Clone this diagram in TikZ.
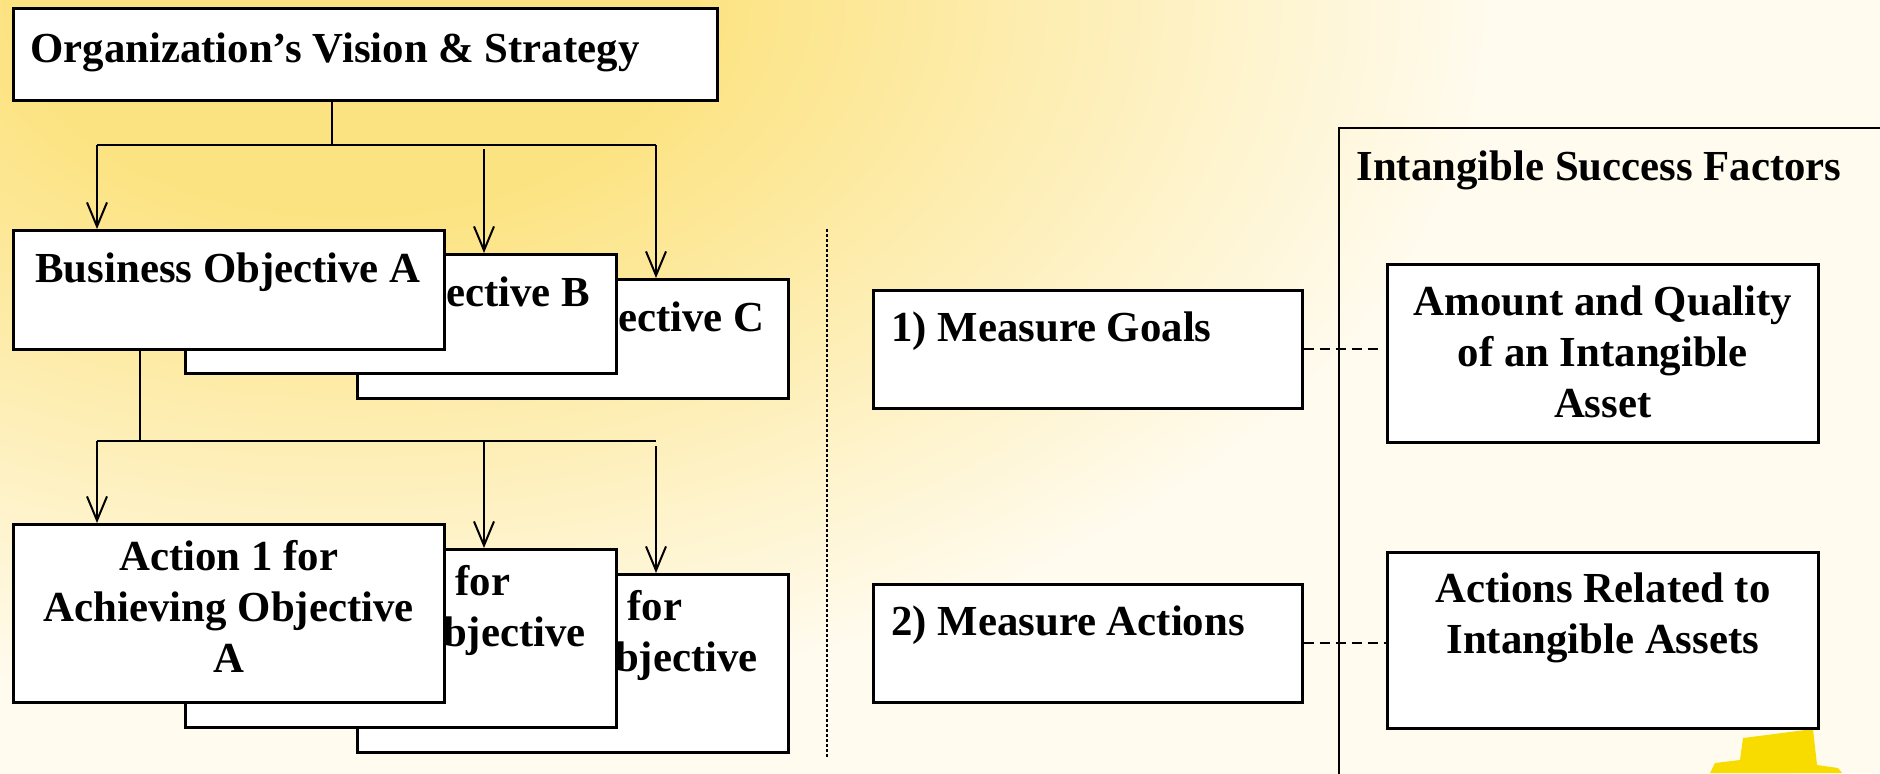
\documentclass[tikz,border=0pt]{standalone}
\usepackage{fontspec}
\setmainfont{Liberation Serif}
\usetikzlibrary{arrows.meta,calc}
\definecolor{bgY}{RGB}{252,227,130}
\definecolor{bgC}{RGB}{255,251,239}
\definecolor{blobY}{RGB}{248,220,0}
\pgfdeclareradialshading{bgshade}{\pgfpoint{0bp}{0bp}}{color(0bp)=(bgY); color(6bp)=(bgY); color(20bp)=(bgC); color(25bp)=(bgC); color(50bp)=(bgC)}
\begin{document}
\begin{tikzpicture}[x=0.5pt,y=-0.5pt,
  box/.style={draw=black, line width=1.3pt, fill=white, anchor=north west, inner sep=0pt},
  lbl/.style={font=\fontsize{21.4}{25.6}\selectfont\bfseries, inner sep=0pt},
  clbl/.style={lbl, anchor=base},
  conn/.style={line width=1pt},
  arr/.style={line width=1pt, -{Straight Barb[length=12pt,width=10pt]}},
  sep/.style={line width=0.7pt, dash pattern=on 1.5pt off 1pt},
  dashc/.style={line width=1pt, dash pattern=on 5pt off 3pt}]
\useasboundingbox (0,0) rectangle (1880,773);
\clip (0,0) rectangle (1880,773);
% background
\fill[bgC] (0,0) rectangle (1880,773);
\shade[shading=bgshade] (-1087,-900) rectangle (1787,900);
\fill[blobY] (1710,773) -- (1715,763) -- (1740,760) -- (1743,738) -- (1813,729) -- (1817,765) -- (1838,768) -- (1842,773) -- cycle;

% top box
\node[box, minimum width=352pt, minimum height=46pt] (org) at (12,7) {};
\node[lbl, anchor=base west] (orgT) at ($(org.north west)+(18,55)$) {Organization’s Vision \& Strategy};

% business objectives
\node[box, minimum width=215.5pt, minimum height=59.5pt] (bC) at (356,278) {};
\node[lbl, anchor=base west] (bCT) at ($(bC.north west)+(23,53)$) {Business Objective C};
\node[box, minimum width=215.5pt, minimum height=59.5pt] (bB) at (184,253) {};
\node[lbl, anchor=base west] (bBT) at ($(bB.north west)+(23,53)$) {Business Objective B};
\node[box, minimum width=215.5pt, minimum height=59.5pt] (bA) at (12,229) {};
\node[lbl, anchor=base west] (bAT) at ($(bA.north west)+(23,53)$) {Business Objective A};

% actions
\node[box, minimum width=215.5pt, minimum height=89pt] (a3) at (356,573) {};
\node[clbl] (a3T) at ($(a3.north)+(0,47)$) {\vtop{\halign{\hfil#\hfil\cr Action 3 for\cr Achieving Objective\cr C\cr}}};
\node[box, minimum width=215.5pt, minimum height=89pt] (a2) at (184,548) {};
\node[clbl] (a2T) at ($(a2.north)+(0,47)$) {\vtop{\halign{\hfil#\hfil\cr Action 2 for\cr Achieving Objective\cr B\cr}}};
\node[box, minimum width=215.5pt, minimum height=89pt] (a1) at (12,523) {};
\node[clbl] (a1T) at ($(a1.north)+(0,47)$) {\vtop{\halign{\hfil#\hfil\cr Action 1 for\cr Achieving Objective\cr A\cr}}};

% connectors level 1
\coordinate (j1) at (332,145);
\coordinate (h1L) at (97,145);
\coordinate (h1R) at (656,145);
\coordinate (aB1) at (484,149);
\draw[conn] (org.south -| j1) -- (j1);
\draw[conn] (h1L) -- (h1R);
\draw[arr] (h1L) -- (h1L |- bA.north);
\draw[arr] (aB1) -- (aB1 |- bB.north);
\draw[arr] (h1R) -- (h1R |- bC.north);

% connectors level 2
\coordinate (j2) at (140,441);
\coordinate (h2L) at (97,441);
\coordinate (h2R) at (656,441);
\coordinate (aB2) at (484,441);
\coordinate (aC2) at (656,446);
\draw[conn] (bA.south -| j2) -- (j2);
\draw[conn] (h2L) -- (h2R);
\draw[arr] (h2L) -- (h2L |- a1.north);
\draw[arr] (aB2) -- (aB2 |- a2.north);
\draw[arr] (aC2) -- (aC2 |- a3.north);

% separator
\coordinate (d1) at (827,229);
\coordinate (d2) at (827,759);
\draw[sep] (d1) -- (d2);

% measures
\node[box, minimum width=214.5pt, minimum height=59pt] (mg) at (872,289) {};
\node[lbl, anchor=base west] (mgT) at ($(mg.north west)+(19,52)$) {1) Measure Goals};
\node[box, minimum width=214.5pt, minimum height=59pt] (ma) at (872,583) {};
\node[lbl, anchor=base west] (maT) at ($(ma.north west)+(19,52)$) {2) Measure Actions};

% intangible success factors frame
\node[box, fill=none, line width=1pt, minimum width=400pt, minimum height=400pt] (isf) at (1338,127) {};
\node[lbl, anchor=base west] (isfT) at (1356,180) {Intangible Success Factors};
\node[box, minimum width=215.5pt, minimum height=89pt] (am) at (1386,263) {};
\node[clbl] (amT) at ($(am.north)+(0,52)$) {\vtop{\halign{\hfil#\hfil\cr Amount and Quality\cr of an Intangible\cr Asset\cr}}};
\node[box, minimum width=215.5pt, minimum height=88pt] (ar) at (1386,551) {};
\node[clbl] (arT) at ($(ar.north)+(0,51)$) {\vtop{\halign{\hfil#\hfil\cr Actions Related to\cr Intangible Assets\cr}}};

% dashed links
\draw[dashc] (mg.east) -- ($(mg.east -| am.west)+(-6,0)$);
\draw[dashc] (ma.east) -- (ma.east -| ar.west);
\end{tikzpicture}
\end{document}
